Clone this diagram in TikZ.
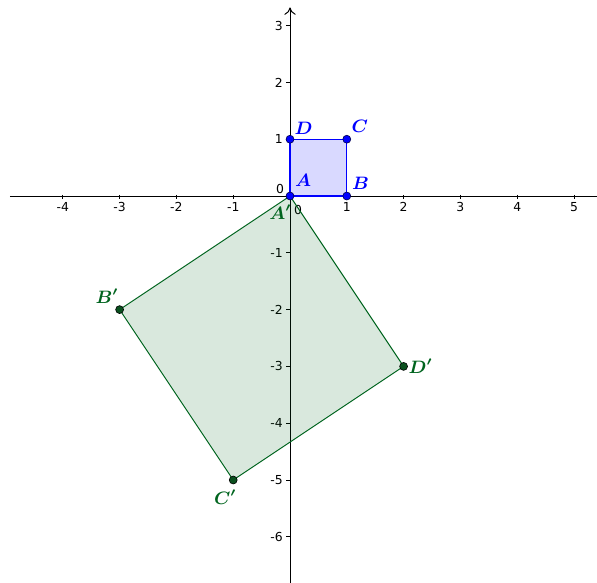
\documentclass[tikz,border=0pt]{standalone}
\usepackage{fontspec}
\usepackage{amsmath}
\usepackage{bm}
\usetikzlibrary{arrows.meta}
\newfontfamily\ticksans{DejaVu Sans}
\definecolor{ggblue}{RGB}{0,0,255}
\definecolor{gggreen}{RGB}{0,100,30}
\definecolor{ggdot}{RGB}{10,80,30}
\begin{document}
\begin{tikzpicture}[x=1cm,y=1cm,
  axis/.style={line width=0.5pt,black},
  tick/.style={line width=0.4pt,black},
  ticklab/.style={font=\ticksans\fontsize{6.2}{7}\selectfont,inner sep=0pt},
  bluept/.style={circle,fill=ggblue,draw=black!70!ggblue,line width=0.3pt,inner sep=0pt,minimum size=0.14cm},
  greenpt/.style={circle,fill=ggdot,draw=black,line width=0.3pt,inner sep=0pt,minimum size=0.14cm},
  bluelab/.style={text=ggblue,font=\fontsize{9}{10}\selectfont,inner sep=0pt},
  greenlab/.style={text=gggreen,font=\fontsize{9}{10}\selectfont,inner sep=0pt}]
\useasboundingbox (-5.106,-6.813) rectangle (5.405,3.451);
% axes
\coordinate (xl) at (-4.93,0);
\coordinate (xr) at (5.405,0);
\coordinate (yb) at (0,-6.813);
\coordinate (yt) at (0,3.32);
\draw[axis] (xl) -- (xr);
\draw[axis,-{To[length=1.3mm,width=2mm]}] (yb) -- (yt);
% x ticks
\foreach \i in {-4,-3,-2,-1,1,2,3,4,5}{
  \draw[tick] (\i,0.02) -- (\i,-0.06);
  \node[ticklab] (xt\i) at (\i,-0.2) {\ifnum\i<0 -\the\numexpr-\i\relax\else\i\fi};
}
\node[ticklab] (xt0) at (0.14,-0.24) {0};
% y ticks
\foreach \j in {-6,-5,-4,-3,-2,-1,1,2,3}{
  \draw[tick] (-0.07,\j) -- (0.01,\j);
  \node[ticklab,anchor=east] (yt\j) at (-0.12,\j) {\ifnum\j<0 -\the\numexpr-\j\relax\else\j\fi};
}
\node[ticklab,anchor=east] (yt0) at (-0.1,0.13) {0};
% points
\coordinate (a) at (0,0);
\coordinate (b) at (1,0);
\coordinate (c) at (1,1);
\coordinate (d) at (0,1);
\coordinate (a2) at (0,0);
\coordinate (b2) at (-3,-2);
\coordinate (c2) at (-1,-5);
\coordinate (d2) at (2,-3);
% green polygon
\draw[gggreen,line width=0.5pt,fill=gggreen,fill opacity=0.15] (a2) -- (b2) -- (c2) -- (d2) -- cycle;
% blue polygon
\draw[ggblue,line width=0.6pt,fill=ggblue,fill opacity=0.15] (a) -- (b) -- (c) -- (d) -- cycle;
% dots
\node[greenpt] (pB2) at (b2) {};
\node[greenpt] (pC2) at (c2) {};
\node[greenpt] (pD2) at (d2) {};
\node[bluept] (pA) at (a) {};
\node[bluept] (pB) at (b) {};
\node[bluept] (pC) at (c) {};
\node[bluept] (pD) at (d) {};
% labels
\node[bluelab] (lA) at (0.23,0.27) {$\bm{A}$};
\node[bluelab] (lB) at (1.24,0.23) {$\bm{B}$};
\node[bluelab] (lC) at (1.23,1.23) {$\bm{C}$};
\node[bluelab] (lD) at (0.24,1.2) {$\bm{D}$};
\node[greenlab] (lA2) at (-0.17,-0.28) {$\bm{A'}$};
\node[greenlab] (lB2) at (-3.22,-1.76) {$\bm{B'}$};
\node[greenlab] (lC2) at (-1.14,-5.3) {$\bm{C'}$};
\node[greenlab] (lD2) at (2.3,-3.0) {$\bm{D'}$};
\end{tikzpicture}
\end{document}
